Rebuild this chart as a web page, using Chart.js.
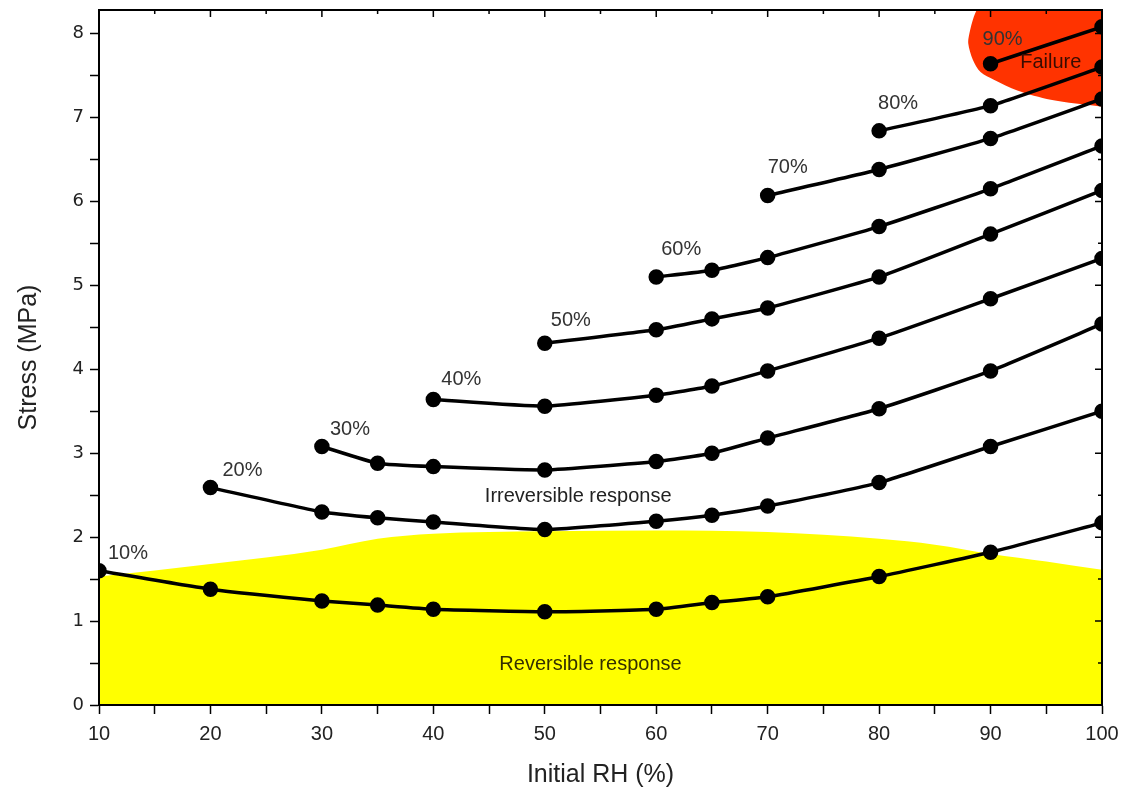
<!DOCTYPE html>
<html>
<head>
<meta charset="utf-8">
<script src="https://cdn.jsdelivr.net/npm/chart.js@4/dist/chart.umd.min.js"></script>
<style>
  body { margin: 0; background: #fff; }
  canvas { display: block; }
</style>
</head>
<body>
<canvas id="stressChart" width="1127" height="795"></canvas>
<script>
// Initial RH steps shared by all curves
const initialRH = [10, 20, 30, 35, 40, 50, 60, 65, 70, 80, 90, 100];

// Stress (MPa) per starting RH, null where the curve has not started yet
const stress10 = [1.60, 1.38, 1.24, 1.19, 1.14, 1.11, 1.14, 1.22, 1.29, 1.53, 1.82, 2.17];
const stress20 = [null, 2.59, 2.30, 2.23, 2.18, 2.09, 2.19, 2.26, 2.37, 2.65, 3.08, 3.50];
const stress30 = [null, null, 3.08, 2.88, 2.84, 2.80, 2.90, 3.00, 3.18, 3.53, 3.98, 4.54];
const stress40 = [null, null, null, null, 3.64, 3.56, 3.69, 3.80, 3.98, 4.37, 4.84, 5.32];
const stress50 = [null, null, null, null, null, 4.31, 4.47, 4.60, 4.73, 5.10, 5.61, 6.13];
const stress60 = [null, null, null, null, null, null, 5.10, 5.18, 5.33, 5.70, 6.15, 6.66];
const stress70 = [null, null, null, null, null, null, null, null, 6.07, 6.38, 6.75, 7.22];
const stress80 = [null, null, null, null, null, null, null, null, null, 6.84, 7.14, 7.60];
const stress90 = [null, null, null, null, null, null, null, null, null, null, 7.64, 8.08];
const seriesLabels = ['10%', '20%', '30%', '40%', '50%', '60%', '70%', '80%', '90%'];

// Reversible response zone (upper boundary)
const reversibleRH = [10, 20, 30, 35, 40, 50, 60, 70, 80, 85, 90, 95, 100];
const reversibleStress = [1.53, 1.68, 1.85, 1.98, 2.04, 2.07, 2.08, 2.06, 1.98, 1.91, 1.80, 1.71, 1.61];

// Failure zone outline
const failureRH = [89.0, 88.5, 88.1, 88.0, 88.4, 89.1, 90.3, 92.4, 95.4, 99.9, 101, 101];
const failureStress = [8.35, 8.20, 8.00, 7.88, 7.69, 7.54, 7.45, 7.32, 7.21, 7.13, 7.12, 8.35];

// Axis ticks
const xMajorTicks = [10, 20, 30, 40, 50, 60, 70, 80, 90, 100];
const yMajorTicks = [0, 1, 2, 3, 4, 5, 6, 7, 8];

// Pixel nudges of each curve label from the curve's first point
const labelOffsets = [[9, -17], [12, -17], [8, -17], [8, -20], [6, -23], [5, -27], [0, -28], [-1, -27], [-8, -24]];

document.addEventListener('DOMContentLoaded', function() {
    const allStress = [stress10, stress20, stress30, stress40, stress50, stress60, stress70, stress80, stress90];

    function toPoints(xs, ys) {
        const pts = [];
        xs.forEach(function(x, i) {
            if (ys[i] !== null) pts.push({ x: x, y: ys[i] });
        });
        return pts;
    }

    const datasets = [];

    datasets.push({
        label: 'Reversible',
        data: toPoints(reversibleRH, reversibleStress),
        showLine: true,
        borderWidth: 0,
        borderColor: 'rgba(0,0,0,0)',
        backgroundColor: '#ffff00',
        pointRadius: 0,
        fill: 'origin',
        cubicInterpolationMode: 'monotone',
        order: 10
    });

    datasets.push({
        label: 'Failure',
        data: toPoints(failureRH, failureStress),
        showLine: true,
        borderWidth: 0,
        borderColor: 'rgba(0,0,0,0)',
        backgroundColor: '#ff3300',
        pointRadius: 0,
        fill: 'shape',
        tension: 0.3,
        order: 9
    });

    allStress.forEach(function(arr, i) {
        datasets.push({
            label: seriesLabels[i],
            data: toPoints(initialRH, arr),
            showLine: true,
            borderColor: '#000',
            backgroundColor: '#000',
            borderWidth: 3.5,
            pointRadius: 6,
            pointHoverRadius: 6,
            tension: 0.15,
            fill: false,
            clip: 0,
            order: 1
        });
    });

    // Frame, inner ticks and text annotations
    const annotations = {
        id: 'annotations',
        afterDatasetsDraw: function(chart) {
            const ctx = chart.ctx;
            const area = chart.chartArea;
            const xs = chart.scales.x;
            const ys = chart.scales.y;
            ctx.save();

            // curve labels, just above each curve's first point
            ctx.fillStyle = '#333';
            ctx.font = '20px "Liberation Sans", Arial, sans-serif';
            ctx.textBaseline = 'middle';
            ctx.textAlign = 'left';
            allStress.forEach(function(arr, i) {
                const idx = arr.findIndex(function(v) { return v !== null; });
                const px = xs.getPixelForValue(initialRH[idx]);
                const py = ys.getPixelForValue(arr[idx]);
                ctx.fillText(seriesLabels[i], px + labelOffsets[i][0], py + labelOffsets[i][1]);
            });

            ctx.textAlign = 'center';
            ctx.fillStyle = '#222';
            ctx.fillText('Irreversible response', xs.getPixelForValue(53), ys.getPixelForValue(2.49));
            ctx.fillStyle = '#332f00';
            ctx.fillText('Reversible response', xs.getPixelForValue(54.1), ys.getPixelForValue(0.48));
            ctx.fillStyle = '#3a0c00';
            ctx.fillText('Failure', xs.getPixelForValue(95.4), ys.getPixelForValue(7.65));

            // box around plot
            ctx.strokeStyle = '#000';
            ctx.lineWidth = 2;
            ctx.strokeRect(area.left, area.top, area.right - area.left, area.bottom - area.top);

            // inward ticks on top and right edges
            ctx.lineWidth = 1.5;
            ctx.beginPath();
            for (let v = 10; v <= 100; v += 5) {
                const px = xs.getPixelForValue(v);
                const len = v % 10 === 0 ? 7 : 4;
                ctx.moveTo(px, area.top);
                ctx.lineTo(px, area.top + len);
            }
            for (let v = 0; v <= 8; v += 0.5) {
                const py = ys.getPixelForValue(v);
                const len = Number.isInteger(v) ? 7 : 4;
                ctx.moveTo(area.right, py);
                ctx.lineTo(area.right - len, py);
            }
            ctx.stroke();
            ctx.restore();
        }
    };

    new Chart(document.getElementById('stressChart'), {
        type: 'scatter',
        data: { datasets: datasets },
        options: {
            responsive: false,
            animation: false,
            layout: { padding: { top: 10, right: 25, left: 0, bottom: 0 } },
            plugins: {
                legend: { display: false },
                tooltip: { enabled: false }
            },
            scales: {
                x: {
                    type: 'linear',
                    min: 10,
                    max: 100,
                    afterFit: function(scale) {
                        scale.height = 90;
                        scale.paddingLeft = 0;
                        scale.paddingRight = 0;
                    },
                    afterBuildTicks: function(scale) {
                        scale.ticks = scale.ticks.filter(function(t) { return t.value % 5 === 0; });
                    },
                    ticks: {
                        stepSize: 5,
                        autoSkip: false,
                        maxRotation: 0,
                        padding: 8,
                        color: '#222',
                        font: { family: '"Liberation Sans Narrow", "Arial Narrow", "Liberation Sans", sans-serif', size: 20 },
                        callback: function(value) {
                            return xMajorTicks.includes(value) ? String(value) : '';
                        }
                    },
                    grid: {
                        display: true,
                        drawOnChartArea: false,
                        drawTicks: true,
                        tickLength: 9,
                        tickWidth: 1.5,
                        tickColor: '#000'
                    },
                    border: { display: true, color: '#000', width: 2 },
                    title: {
                        display: true,
                        text: 'Initial RH (%)',
                        color: '#222',
                        font: { family: '"Liberation Sans Narrow", "Arial Narrow", "Liberation Sans", sans-serif', size: 25 },
                        padding: { top: 0, bottom: 5 }
                    }
                },
                y: {
                    type: 'linear',
                    min: 0,
                    max: 8.28,
                    afterFit: function(scale) {
                        scale.width = 99;
                        scale.paddingTop = 0;
                        scale.paddingBottom = 0;
                    },
                    afterBuildTicks: function(scale) {
                        scale.ticks = scale.ticks.filter(function(t) {
                            return Math.abs(t.value * 2 - Math.round(t.value * 2)) < 1e-6 && t.value <= 8;
                        });
                    },
                    ticks: {
                        stepSize: 0.5,
                        autoSkip: false,
                        padding: 6,
                        color: '#222',
                        font: { family: '"DejaVu Sans", Verdana, sans-serif', size: 18 },
                        callback: function(value) {
                            return yMajorTicks.includes(value) ? String(value) : '';
                        }
                    },
                    grid: {
                        display: true,
                        drawOnChartArea: false,
                        drawTicks: true,
                        tickLength: 9,
                        tickWidth: 1.5,
                        tickColor: '#000'
                    },
                    border: { display: true, color: '#000', width: 2 },
                    title: {
                        display: true,
                        text: 'Stress (MPa)',
                        color: '#222',
                        font: { family: '"Liberation Sans Narrow", "Arial Narrow", "Liberation Sans", sans-serif', size: 25 },
                        padding: { top: 14, bottom: 0 }
                    }
                }
            }
        },
        plugins: [annotations]
    });
});
</script>
</body>
</html>
